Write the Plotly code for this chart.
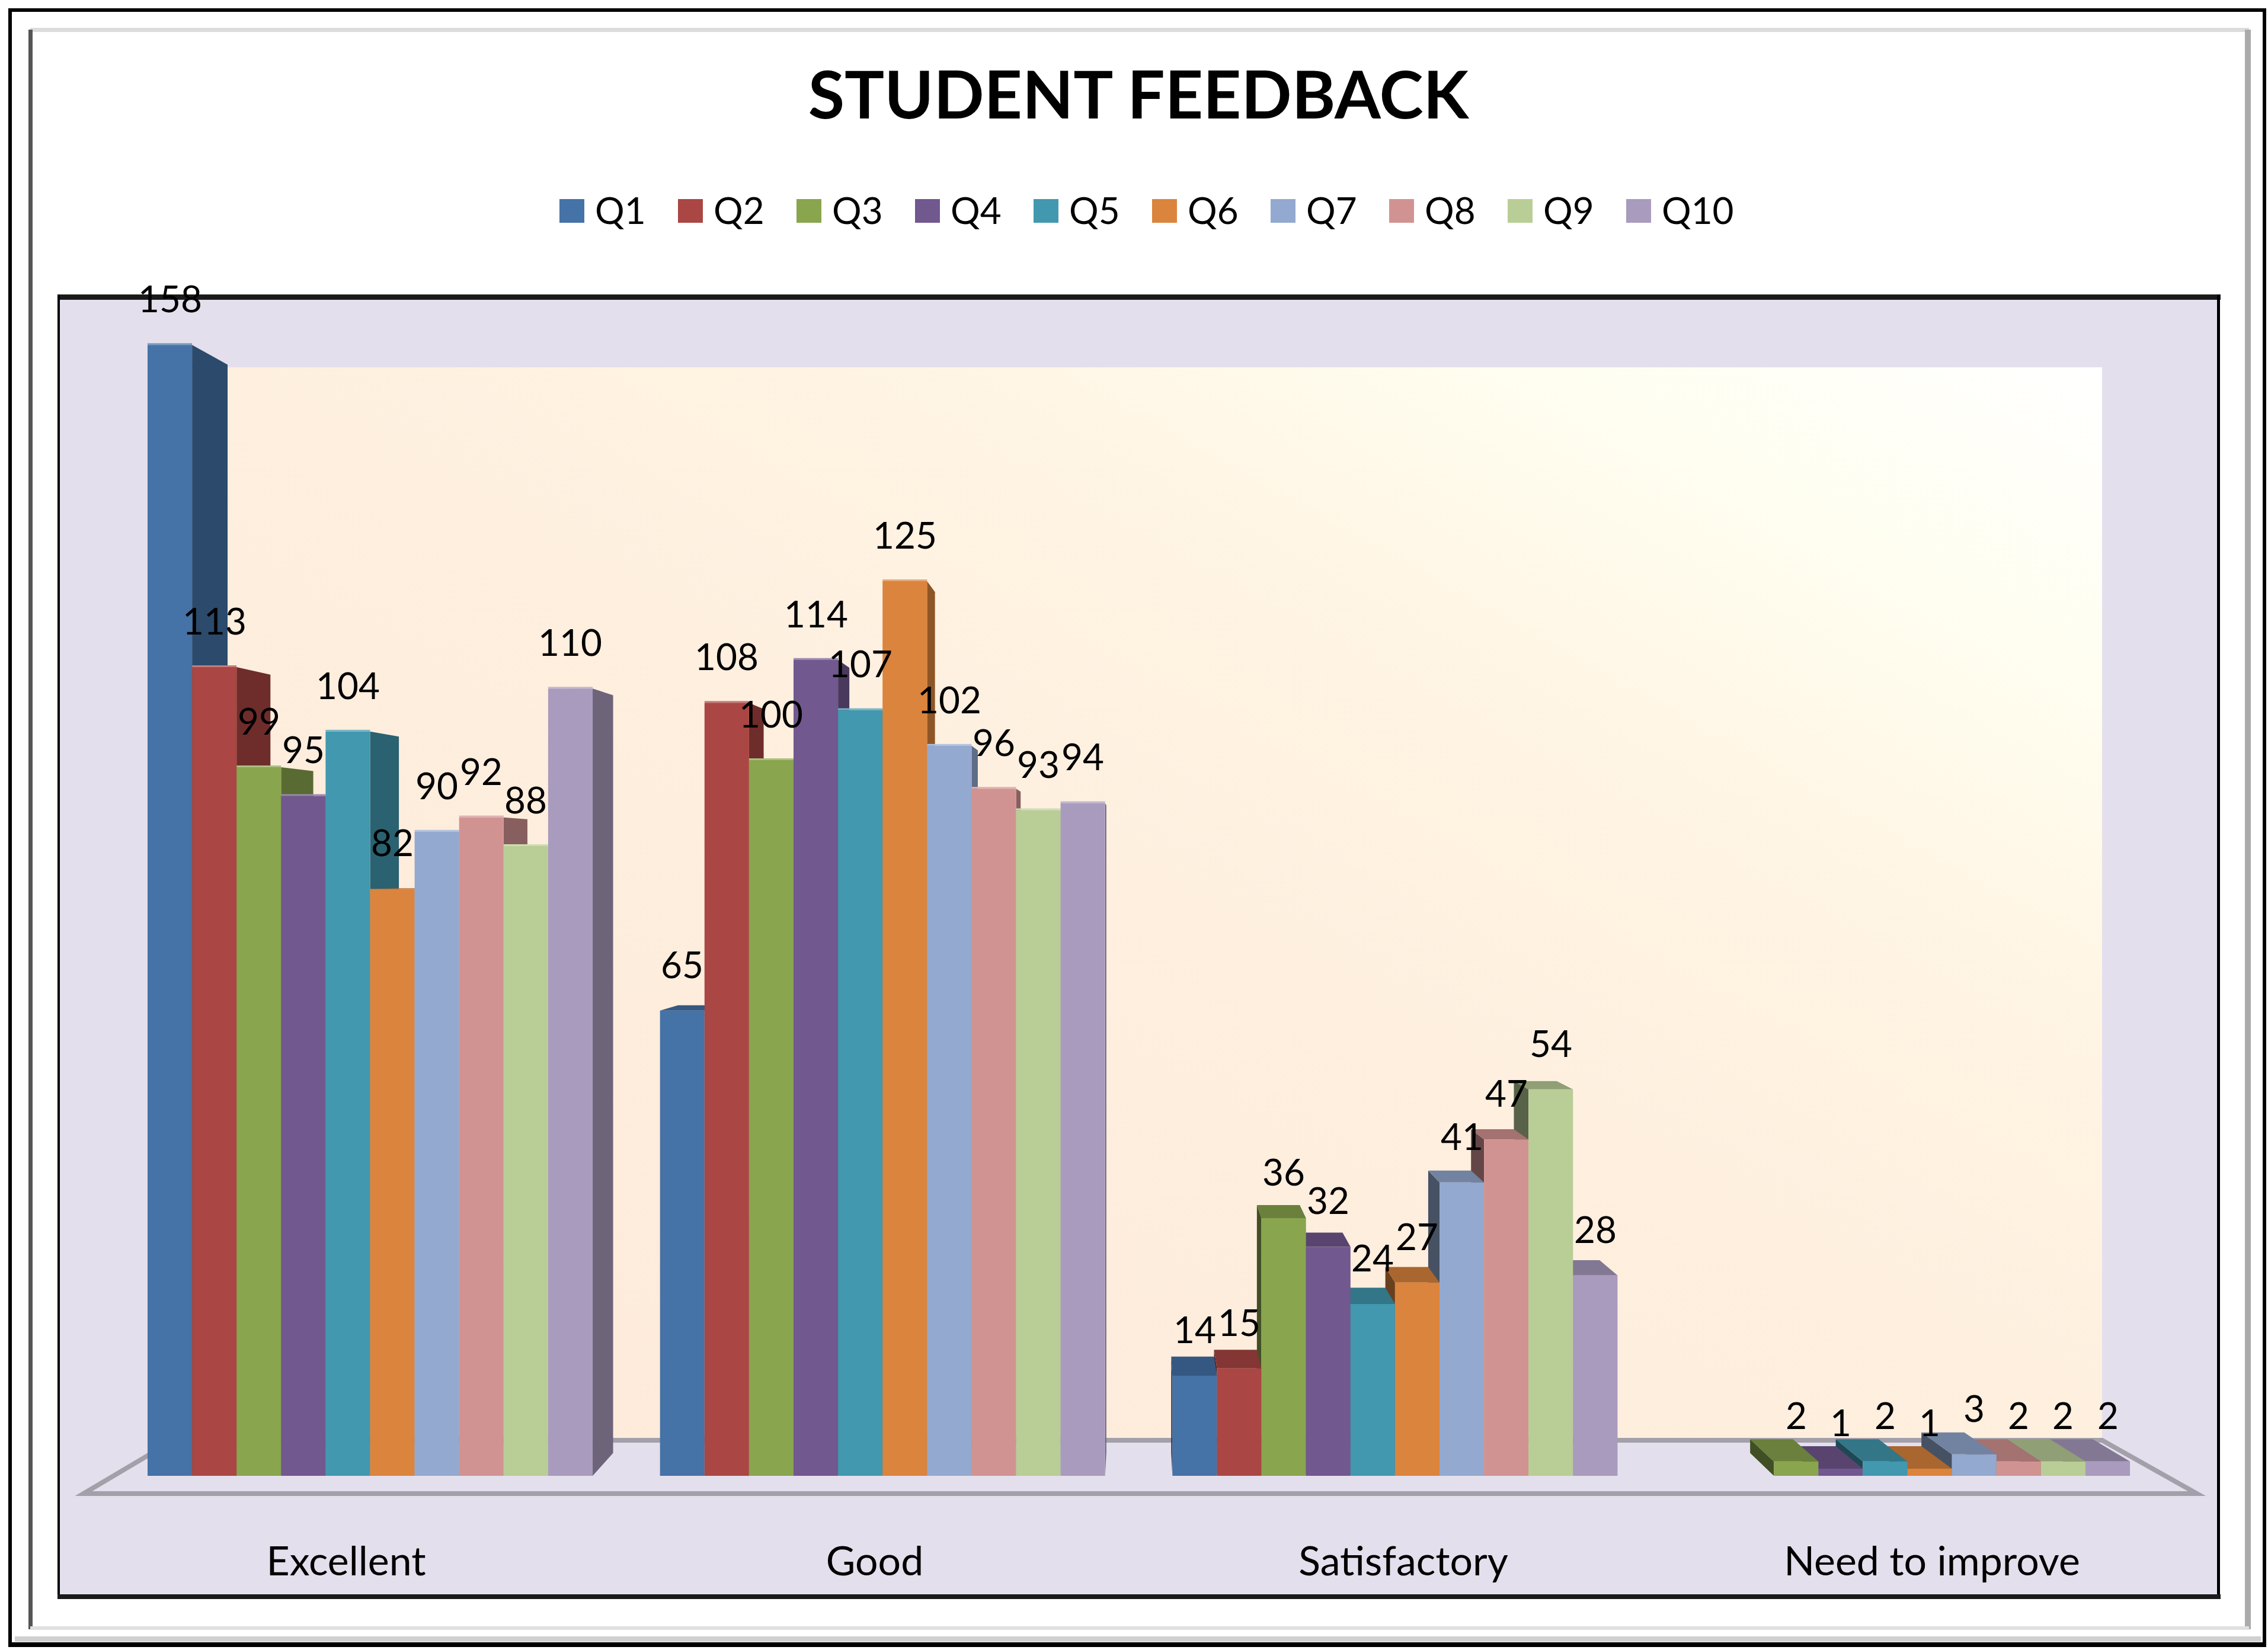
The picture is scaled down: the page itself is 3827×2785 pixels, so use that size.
import base64
import plotly.graph_objects as go

W = 3827
H = 2785

# data
categories = ['Excellent', 'Good', 'Satisfactory', 'Need to improve']
series_names = ['Q1', 'Q2', 'Q3', 'Q4', 'Q5', 'Q6', 'Q7', 'Q8', 'Q9', 'Q10']
excellent = [158, 113, 99, 95, 104, 82, 90, 92, 88, 110]
good = [65, 108, 100, 114, 107, 125, 102, 96, 93, 94]
satisfactory = [14, 15, 36, 32, 24, 27, 41, 47, 54, 28]
need_to_improve = [None, None, 2, 1, 2, 1, 3, 2, 2, 2]
colors = ['#4572A7', '#AA4643', '#89A54E', '#71588F', '#4198AF',
          '#DB843D', '#93A9CF', '#D19392', '#B9CD96', '#A99BBD']

groups = [excellent, good, satisfactory, need_to_improve]

FONT = 'Lato'
TXT = 62
TICK_TXT = 68

# pixel layout of the chart panel
PX_L, PX_R, PX_T, PX_B = 99, 3744, 502, 2694
BASE_Y = 2491       # pixel row of value 0
UNIT_Y = 12.08      # pixels per value
UNIT_X = 864.7      # pixels per category
FIRST_X = 624.5     # pixel centre of first group
LABEL_X0 = 584      # pixel centre of first category label
LABEL_UNIT = 892
BARGAP = 0.1315
DEPTH = 0.0375      # how far the back of a bar goes to the vanishing point
VP_X = 1.5
VP_Y = 84.9


def px(x):
    return x / W


def py(y):
    return 1 - y / H


def darker(hex_color, f):
    r, g, b = [int(hex_color[i:i + 2], 16) for i in (1, 3, 5)]
    return 'rgb(%d,%d,%d)' % (r * f, g * f, b * f)


def lighter(hex_color, f):
    r, g, b = [int(hex_color[i:i + 2], 16) for i in (1, 3, 5)]
    return 'rgb(%d,%d,%d)' % (r + (255 - r) * f, g + (255 - g) * f, b + (255 - b) * f)


def back(x, y):
    return x + DEPTH * (VP_X - x), y + DEPTH * (VP_Y - y)


def poly(points, color):
    path = 'M' + 'L'.join('%.4f,%.4f' % p for p in points) + 'Z'
    return dict(type='path', path=path, xref='x', yref='y', layer='below',
                fillcolor=color, line=dict(width=0))


def band(x0, y0, x1, y1, color):
    return dict(type='rect', xref='paper', yref='paper', x0=px(x0), x1=px(x1),
                y0=py(y0), y1=py(y1), fillcolor=color, line=dict(width=0), layer='above')


fig = go.Figure()

for s, name in enumerate(series_names):
    fig.add_trace(go.Bar(x=categories, y=[g[s] for g in groups], name=name,
                         marker=dict(color=colors[s], line=dict(width=0)),
                         showlegend=False))

# second x axis only carries the labels, they sit wider apart than the bars
fig.add_trace(go.Scatter(x=categories, y=[0, 0, 0, 0], mode='none', xaxis='x2',
                         showlegend=False, hoverinfo='skip'))

shapes = []
annotations = []

# floor
fl = [(141, 2521), (293, 2431), (3547, 2431), (3707, 2521)]
shapes.append(dict(type='path', xref='paper', yref='paper', layer='below',
                   path='M' + 'L'.join('%.5f,%.5f' % (px(a), py(b)) for a, b in fl) + 'Z',
                   fillcolor='#E4DFEC', line=dict(color='#A3A0AA', width=8)))

# sides and tops of the bars, far from the vanishing point first
bar_w = (1 - BARGAP) / 10
faces = []
for g, values in enumerate(groups):
    for s, v in enumerate(values):
        if v is None:
            continue
        x0 = g + (s - 5) * bar_w
        x1 = x0 + bar_w
        faces.append((max(abs(x0 - VP_X), abs(x1 - VP_X)), x0, x1, v, colors[s]))
faces.sort(key=lambda f: -f[0])

for _, x0, x1, v, c in faces:
    if x1 < VP_X:
        shapes.append(poly([(x1, 0), (x1, v), back(x1, v), back(x1, 0)], darker(c, 0.65)))
    elif x0 > VP_X:
        shapes.append(poly([(x0, 0), (x0, v), back(x0, v), back(x0, 0)], darker(c, 0.48)))
    if v < VP_Y:
        shapes.append(poly([(x0, v), (x1, v), back(x1, v), back(x0, v)], darker(c, 0.78)))
    else:
        # tall bars only show a thin light edge on top
        shapes.append(poly([(x0, v), (x1, v), (x1, v + 0.25), (x0, v + 0.25)], lighter(c, 0.3)))

# data labels
for g, values in enumerate(groups):
    for s, v in enumerate(values):
        if v is None:
            continue
        annotations.append(dict(x=g + (s - 4.5) * bar_w, y=v, xref='x', yref='y', text=str(v),
                                showarrow=False, yshift=79, yanchor='middle',
                                font=dict(family=FONT, size=TXT, color='#000000')))

# legend row
for s, name in enumerate(series_names):
    left = 944 + 200 * s
    shapes.append(dict(type='rect', xref='paper', yref='paper', x0=px(left), x1=px(left + 42),
                       y0=py(336), y1=py(376), fillcolor=colors[s], line=dict(width=0)))
    annotations.append(dict(x=px(left + 58), y=py(354), xref='paper', yref='paper', text=name,
                            showarrow=False, xanchor='left', yanchor='middle',
                            font=dict(family=FONT, size=TXT, color='#000000')))

# picture frame and panel border
shapes += [
    band(14, 14, 3824, 20, '#000000'),
    band(14, 2772, 3824, 2780, '#000000'),
    band(14, 14, 20, 2780, '#000000'),
    band(3818, 14, 3824, 2780, '#000000'),
    band(51, 47, 3795, 54, '#DCDCDC'),
    band(48, 50, 55, 2750, '#555555'),
    band(3788, 50, 3798, 2750, '#ABABAB'),
    band(51, 2745, 3795, 2751, '#E0E0E0'),
    band(25, 2762, 3815, 2771, '#D0D0D0'),
    band(97, 497, 3747, 506, '#1A1A1A'),
    band(97, 497, 101, 2698, '#000000'),
    band(3741, 497, 3746, 2698, '#000000'),
    band(97, 2691, 3747, 2699, '#1A1A1A'),
]

wall_svg = ('<svg xmlns="http://www.w3.org/2000/svg" width="400" height="220" preserveAspectRatio="none" viewBox="0 0 400 220">'
            '<defs><linearGradient id="g" x1="0" y1="1" x2="1" y2="0">'
            '<stop offset="0" stop-color="#FDE9D9"/><stop offset="0.5" stop-color="#FEEFDF"/>'
            '<stop offset="0.7" stop-color="#FFF5E4"/><stop offset="0.85" stop-color="#FFFEF0"/>'
            '<stop offset="1" stop-color="#FFFFFF"/></linearGradient></defs>'
            '<rect width="400" height="220" fill="url(#g)"/></svg>')
wall_uri = 'data:image/svg+xml;base64,' + base64.b64encode(wall_svg.encode()).decode()

fig.update_layout(
    width=W,
    height=H,
    autosize=False,
    margin=dict(l=0, r=0, t=0, b=0),
    paper_bgcolor='#FFFFFF',
    plot_bgcolor='#E4DFEC',
    barmode='group',
    bargap=BARGAP,
    bargroupgap=0,
    showlegend=False,
    shapes=shapes,
    annotations=annotations,
    images=[dict(source=wall_uri, xref='paper', yref='paper', x=px(293), y=py(620),
                 sizex=px(3547) - px(293), sizey=py(620) - py(2431), sizing='stretch',
                 xanchor='left', yanchor='top', layer='below')],
    title=dict(text='<b>STUDENT FEEDBACK</b>', x=px(1921), xanchor='center', y=py(161), yanchor='middle',
               font=dict(family=FONT, size=112, color='#000000')),
    font=dict(family=FONT, size=TXT, color='#000000'),
    xaxis=dict(domain=[px(PX_L), px(PX_R)], type='category', categoryarray=categories,
               range=[(PX_L - FIRST_X) / UNIT_X, (PX_R - FIRST_X) / UNIT_X],
               showticklabels=False, showgrid=False, zeroline=False, showline=False, ticks=''),
    xaxis2=dict(domain=[px(PX_L), px(PX_R)], overlaying='x', anchor='y', side='bottom',
                type='category', categoryarray=categories,
                range=[(PX_L - LABEL_X0) / LABEL_UNIT, (PX_R - LABEL_X0) / LABEL_UNIT],
                showgrid=False, zeroline=False, showline=False, ticks='',
                ticklabelposition='inside', ticklabelstandoff=18,
                tickfont=dict(family=FONT, size=TICK_TXT, color='#000000')),
    yaxis=dict(domain=[py(PX_B), py(PX_T)],
               range=[(BASE_Y - PX_B) / UNIT_Y, (BASE_Y - PX_T) / UNIT_Y],
               showticklabels=False, showgrid=False, zeroline=False, showline=False, ticks=''),
)

# page margin would push the figure out of the window
fig.write_html("out.html", config={'displayModeBar': False},
               post_script="document.body.style.margin='0';")
